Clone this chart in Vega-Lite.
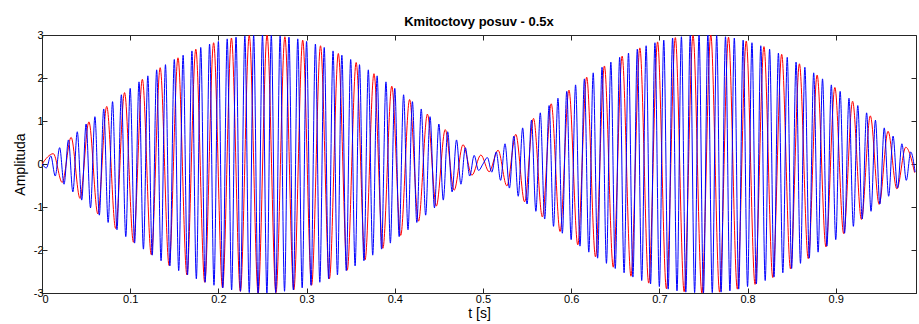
{
  "$schema": "https://vega.github.io/schema/vega-lite/v6.json",
  "width": 874,
  "height": 258,
  "autosize": "none",
  "padding": {"left": 42, "top": 35, "right": 3, "bottom": 31},
  "background": "white",
  "title": {"text": "Kmitoctovy posuv - 0.5x", "font": "Liberation Sans", "fontSize": 13, "fontWeight": "bold", "color": "#000", "offset": 8, "baseline": "bottom", "dy": 21},
  "config": {"view": {"stroke": "#262626", "strokeWidth": 1}},
  "datasets": {
    "blue": [
      {"t":0,"y":0},{"t":0.005,"y":-0.09},{"t":0.01,"y":0.19},{"t":0.015,"y":-0.28},{"t":0.02,"y":0.38},{"t":0.025,"y":-0.47},{"t":0.03,"y":0.56},{"t":0.035,"y":-0.65},{"t":0.04,"y":0.75},{"t":0.045,"y":-0.84},
      {"t":0.05,"y":0.93},{"t":0.055,"y":-1.02},{"t":0.06,"y":1.10},{"t":0.065,"y":-1.19},{"t":0.07,"y":1.28},{"t":0.075,"y":-1.36},{"t":0.08,"y":1.45},{"t":0.085,"y":-1.53},{"t":0.09,"y":1.61},{"t":0.095,"y":-1.69},
      {"t":0.1,"y":1.76},{"t":0.105,"y":-1.84},{"t":0.11,"y":1.91},{"t":0.115,"y":-1.98},{"t":0.12,"y":2.05},{"t":0.125,"y":-2.12},{"t":0.13,"y":2.19},{"t":0.135,"y":-2.25},{"t":0.14,"y":2.31},{"t":0.145,"y":-2.37},
      {"t":0.15,"y":2.43},{"t":0.155,"y":-2.48},{"t":0.16,"y":2.53},{"t":0.165,"y":-2.58},{"t":0.17,"y":2.63},{"t":0.175,"y":-2.67},{"t":0.18,"y":2.71},{"t":0.185,"y":-2.75},{"t":0.19,"y":2.79},{"t":0.195,"y":-2.82},
      {"t":0.2,"y":2.85},{"t":0.205,"y":-2.88},{"t":0.21,"y":2.91},{"t":0.215,"y":-2.93},{"t":0.22,"y":2.95},{"t":0.225,"y":-2.96},{"t":0.23,"y":2.98},{"t":0.235,"y":-2.99},{"t":0.24,"y":2.99},{"t":0.245,"y":-3.0},
      {"t":0.25,"y":3.0},{"t":0.255,"y":-3.0},{"t":0.26,"y":2.99},{"t":0.265,"y":-2.99},{"t":0.27,"y":2.98},{"t":0.275,"y":-2.96},{"t":0.28,"y":2.95},{"t":0.285,"y":-2.93},{"t":0.29,"y":2.91},{"t":0.295,"y":-2.88},
      {"t":0.3,"y":2.85},{"t":0.305,"y":-2.82},{"t":0.31,"y":2.79},{"t":0.315,"y":-2.75},{"t":0.32,"y":2.71},{"t":0.325,"y":-2.67},{"t":0.33,"y":2.63},{"t":0.335,"y":-2.58},{"t":0.34,"y":2.53},{"t":0.345,"y":-2.48},
      {"t":0.35,"y":2.43},{"t":0.355,"y":-2.37},{"t":0.36,"y":2.31},{"t":0.365,"y":-2.25},{"t":0.37,"y":2.19},{"t":0.375,"y":-2.12},{"t":0.38,"y":2.05},{"t":0.385,"y":-1.98},{"t":0.39,"y":1.91},{"t":0.395,"y":-1.84},
      {"t":0.4,"y":1.76},{"t":0.405,"y":-1.69},{"t":0.41,"y":1.61},{"t":0.415,"y":-1.53},{"t":0.42,"y":1.45},{"t":0.425,"y":-1.36},{"t":0.43,"y":1.28},{"t":0.435,"y":-1.19},{"t":0.44,"y":1.10},{"t":0.445,"y":-1.02},
      {"t":0.45,"y":0.93},{"t":0.455,"y":-0.84},{"t":0.46,"y":0.75},{"t":0.465,"y":-0.65},{"t":0.47,"y":0.56},{"t":0.475,"y":-0.47},{"t":0.48,"y":0.38},{"t":0.485,"y":-0.28},{"t":0.49,"y":0.2},{"t":0.495,"y":-0.15},
      {"t":0.5,"y":0},{"t":0.505,"y":0.15},{"t":0.51,"y":-0.19},{"t":0.515,"y":0.28},{"t":0.52,"y":-0.38},{"t":0.525,"y":0.47},{"t":0.53,"y":-0.56},{"t":0.535,"y":0.65},{"t":0.54,"y":-0.75},{"t":0.545,"y":0.84},
      {"t":0.55,"y":-0.93},{"t":0.555,"y":1.02},{"t":0.56,"y":-1.10},{"t":0.565,"y":1.19},{"t":0.57,"y":-1.28},{"t":0.575,"y":1.36},{"t":0.58,"y":-1.45},{"t":0.585,"y":1.53},{"t":0.59,"y":-1.61},{"t":0.595,"y":1.69},
      {"t":0.6,"y":-1.76},{"t":0.605,"y":1.84},{"t":0.61,"y":-1.91},{"t":0.615,"y":1.98},{"t":0.62,"y":-2.05},{"t":0.625,"y":2.12},{"t":0.63,"y":-2.19},{"t":0.635,"y":2.25},{"t":0.64,"y":-2.31},{"t":0.645,"y":2.37},
      {"t":0.65,"y":-2.43},{"t":0.655,"y":2.48},{"t":0.66,"y":-2.53},{"t":0.665,"y":2.58},{"t":0.67,"y":-2.63},{"t":0.675,"y":2.67},{"t":0.68,"y":-2.71},{"t":0.685,"y":2.75},{"t":0.69,"y":-2.79},{"t":0.695,"y":2.82},
      {"t":0.7,"y":-2.85},{"t":0.705,"y":2.88},{"t":0.71,"y":-2.91},{"t":0.715,"y":2.93},{"t":0.72,"y":-2.95},{"t":0.725,"y":2.96},{"t":0.73,"y":-2.98},{"t":0.735,"y":2.99},{"t":0.74,"y":-2.99},{"t":0.745,"y":3.0},
      {"t":0.75,"y":-3.0},{"t":0.755,"y":3.0},{"t":0.76,"y":-2.99},{"t":0.765,"y":2.99},{"t":0.77,"y":-2.98},{"t":0.775,"y":2.96},{"t":0.78,"y":-2.95},{"t":0.785,"y":2.93},{"t":0.79,"y":-2.91},{"t":0.795,"y":2.88},
      {"t":0.8,"y":-2.85},{"t":0.805,"y":2.82},{"t":0.81,"y":-2.79},{"t":0.815,"y":2.75},{"t":0.82,"y":-2.71},{"t":0.825,"y":2.67},{"t":0.83,"y":-2.63},{"t":0.835,"y":2.58},{"t":0.84,"y":-2.53},{"t":0.845,"y":2.48},
      {"t":0.85,"y":-2.43},{"t":0.855,"y":2.37},{"t":0.86,"y":-2.31},{"t":0.865,"y":2.25},{"t":0.87,"y":-2.19},{"t":0.875,"y":2.12},{"t":0.88,"y":-2.05},{"t":0.885,"y":1.98},{"t":0.89,"y":-1.91},{"t":0.895,"y":1.84},
      {"t":0.9,"y":-1.76},{"t":0.905,"y":1.69},{"t":0.91,"y":-1.61},{"t":0.915,"y":1.53},{"t":0.92,"y":-1.45},{"t":0.925,"y":1.36},{"t":0.93,"y":-1.28},{"t":0.935,"y":1.19},{"t":0.94,"y":-1.10},{"t":0.945,"y":1.02},
      {"t":0.95,"y":-0.93},{"t":0.955,"y":0.84},{"t":0.96,"y":-0.75},{"t":0.965,"y":0.65},{"t":0.97,"y":-0.56},{"t":0.975,"y":0.47},{"t":0.98,"y":-0.38},{"t":0.985,"y":0.28},{"t":0.99,"y":-0.19}
    ],
    "red": [
      {"t":0,"y":0},{"t":0.0128,"y":0.24},{"t":0.0229,"y":-0.43},{"t":0.033,"y":0.62},{"t":0.0431,"y":-0.80},{"t":0.0532,"y":0.98},{"t":0.0633,"y":-1.16},{"t":0.0734,"y":1.34},{"t":0.0835,"y":-1.50},{"t":0.0936,"y":1.66},
      {"t":0.1037,"y":-1.82},{"t":0.1138,"y":1.97},{"t":0.1239,"y":-2.11},{"t":0.134,"y":2.24},{"t":0.1441,"y":-2.36},{"t":0.1542,"y":2.47},{"t":0.1643,"y":-2.58},{"t":0.1744,"y":2.67},{"t":0.1845,"y":-2.75},{"t":0.1946,"y":2.82},
      {"t":0.2047,"y":-2.88},{"t":0.2148,"y":2.93},{"t":0.2249,"y":-2.96},{"t":0.235,"y":2.99},{"t":0.2451,"y":-3.0},{"t":0.2552,"y":3.0},{"t":0.2653,"y":-2.99},{"t":0.2754,"y":2.96},{"t":0.2855,"y":-2.93},{"t":0.2956,"y":2.88},
      {"t":0.3057,"y":-2.82},{"t":0.3158,"y":2.75},{"t":0.3259,"y":-2.67},{"t":0.336,"y":2.57},{"t":0.3461,"y":-2.47},{"t":0.3562,"y":2.36},{"t":0.3663,"y":-2.23},{"t":0.3764,"y":2.10},{"t":0.3865,"y":-1.96},{"t":0.3966,"y":1.81},
      {"t":0.4067,"y":-1.66},{"t":0.4168,"y":1.50},{"t":0.4269,"y":-1.33},{"t":0.437,"y":1.16},{"t":0.4471,"y":-0.98},{"t":0.4572,"y":0.80},{"t":0.4673,"y":-0.61},{"t":0.4774,"y":0.45},{"t":0.4875,"y":-0.26},{"t":0.4976,"y":0.21},
      {"t":0.507,"y":-0.18},{"t":0.5171,"y":0.32},{"t":0.5271,"y":-0.51},{"t":0.5372,"y":0.69},{"t":0.5472,"y":-0.88},{"t":0.5573,"y":1.06},{"t":0.5673,"y":-1.23},{"t":0.5774,"y":1.40},{"t":0.5874,"y":-1.57},{"t":0.5975,"y":1.72},
      {"t":0.6075,"y":-1.88},{"t":0.6176,"y":2.02},{"t":0.6276,"y":-2.16},{"t":0.6377,"y":2.28},{"t":0.6477,"y":-2.40},{"t":0.6578,"y":2.51},{"t":0.6678,"y":-2.61},{"t":0.6779,"y":2.70},{"t":0.6879,"y":-2.77},{"t":0.698,"y":2.84},
      {"t":0.708,"y":-2.90},{"t":0.7181,"y":2.94},{"t":0.7281,"y":-2.97},{"t":0.7382,"y":2.99},{"t":0.7482,"y":-3.0},{"t":0.7583,"y":3.0},{"t":0.7683,"y":-2.98},{"t":0.7784,"y":2.95},{"t":0.7884,"y":-2.91},{"t":0.7985,"y":2.86},
      {"t":0.8085,"y":-2.80},{"t":0.8186,"y":2.73},{"t":0.8286,"y":-2.64},{"t":0.8387,"y":2.55},{"t":0.8487,"y":-2.44},{"t":0.8588,"y":2.33},{"t":0.8688,"y":-2.20},{"t":0.8789,"y":2.07},{"t":0.8889,"y":-1.93},{"t":0.899,"y":1.78},
      {"t":0.909,"y":-1.62},{"t":0.9191,"y":1.46},{"t":0.9291,"y":-1.29},{"t":0.9392,"y":1.12},{"t":0.9492,"y":-0.94},{"t":0.9593,"y":0.76},{"t":0.9693,"y":-0.58},{"t":0.9794,"y":0.39},{"t":0.9894,"y":-0.20}
    ]
  },
  "layer": [
    {
      "data": {"name": "red"},
      "mark": {"type": "line", "color": "#ff0000", "strokeWidth": 1, "interpolate": "monotone", "clip": true},
      "encoding": {
        "x": {"field": "t", "type": "quantitative", "scale": {"domain": [0, 0.991], "nice": false, "zero": false},
          "axis": {"orient": "top", "values": [0, 0.1, 0.2, 0.3, 0.4, 0.5, 0.6, 0.7, 0.8, 0.9], "labels": false, "title": null, "grid": false,
            "tickSize": -5, "domain": false, "tickColor": "#262626", "minExtent": 0, "maxExtent": 0}},
        "y": {"field": "y", "type": "quantitative", "scale": {"domain": [-3, 3], "nice": false},
          "axis": {"orient": "right", "values": [-3, -2, -1, 0, 1, 2, 3], "labels": false, "title": null, "grid": false,
            "tickSize": -5, "domain": false, "tickColor": "#262626", "minExtent": 0, "maxExtent": 0}}
      }
    },
    {
      "data": {"name": "blue"},
      "mark": {"type": "line", "color": "#0000ff", "strokeWidth": 1, "interpolate": "monotone", "clip": true},
      "encoding": {
        "x": {"field": "t", "type": "quantitative",
          "axis": {"orient": "bottom", "values": [0, 0.1, 0.2, 0.3, 0.4, 0.5, 0.6, 0.7, 0.8, 0.9], "labelExpr": "'' + datum.value", "grid": false,
            "tickSize": -5, "labelPadding": 5, "domain": true, "domainColor": "#262626", "tickColor": "#262626",
            "labelFont": "Liberation Sans", "labelFontSize": 11, "labelColor": "#000",
            "title": "t [s]", "titleFont": "Liberation Sans", "titleFontSize": 14, "titleFontWeight": "normal", "titleColor": "#000", "titlePadding": 2}},
        "y": {"field": "y", "type": "quantitative",
          "axis": {"orient": "left", "values": [-3, -2, -1, 0, 1, 2, 3], "labelExpr": "'' + datum.value", "grid": false,
            "tickSize": -5, "labelPadding": 4, "domain": true, "domainColor": "#262626", "tickColor": "#262626",
            "labelFont": "Liberation Sans", "labelFontSize": 11, "labelColor": "#000",
            "title": "Amplituda", "titleFont": "Liberation Sans", "titleFontSize": 14, "titleFontWeight": "normal", "titleColor": "#000", "titlePadding": 6}}
      }
    }
  ],
  "resolve": {"axis": {"x": "independent", "y": "independent"}}
}
